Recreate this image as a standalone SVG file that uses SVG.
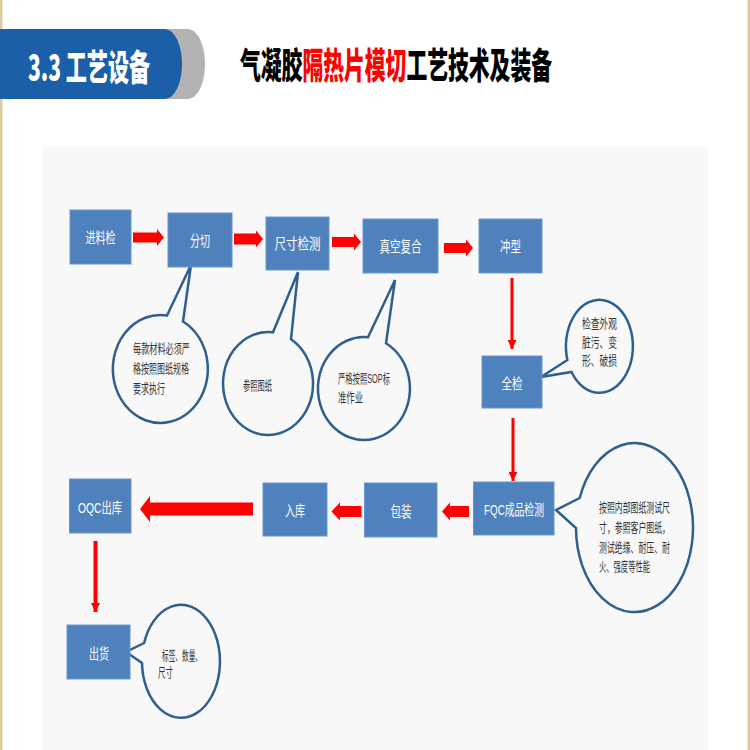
<svg xmlns="http://www.w3.org/2000/svg" width="750" height="750" viewBox="0 0 750 750">
<defs>
<style>
.box{fill:#4f81bd;stroke:#6a96cc;stroke-width:1}
.nt{font-family:"Liberation Sans","Noto Sans CJK SC",sans-serif;font-size:15px;fill:#ffffff;text-anchor:middle;dominant-baseline:central}
.ct{font-family:"Liberation Sans","Noto Sans CJK SC",sans-serif;font-size:13px;fill:#333333;dominant-baseline:central}
.call{fill:#f8f8f8;stroke:#2f5f8f;stroke-width:2.5;stroke-linejoin:miter}
.blk{fill:#ff0000}
.thin{stroke:#ff0000;stroke-width:3;fill:none}
.ttl{font-family:"Noto Sans CJK SC",sans-serif;font-size:36px;font-weight:900;dominant-baseline:central}
</style>
<marker id="ah" markerUnits="userSpaceOnUse" markerWidth="9" markerHeight="9" refX="9" refY="4.5" orient="auto">
<path d="M0,0 L9,4.5 L0,9 Z" fill="#ff0000"/>
</marker>
</defs>
<rect x="0" y="0" width="750" height="750" fill="#ffffff"/>
<rect x="0" y="0" width="2.5" height="750" fill="#dcc9a0"/>
<rect x="747.5" y="0" width="2.5" height="750" fill="#dcc9a0"/>
<rect x="42" y="147" width="666" height="603" fill="#f8f8f8"/>

<g id="header">
<path d="M150,29 H188 A17,35 0 0 1 188,99 H150 Z" fill="#b3b3b3"/>
<path d="M0,29 H165 A17,35 0 0 1 165,99 H0 Z" fill="#1a5fa8"/>
<text class="ttl" x="28" y="65" fill="#ffffff" textLength="122" lengthAdjust="spacingAndGlyphs">3.3 工艺设备</text>
</g>
<g id="title">
<text class="ttl" x="240" y="63" fill="#000000" textLength="312" lengthAdjust="spacingAndGlyphs">气凝胶<tspan fill="#ff0000">隔热片模切</tspan>工艺技术及装备</text>
</g>

<g id="callouts">
<g id="callout1">
<path class="call" d="M167,315.5 L191,265 L183,321.5 A47.5,54 0 1 1 167,315.5 Z"/>
<text class="ct" x="133" y="348" textLength="57" lengthAdjust="spacingAndGlyphs">每款材料必须严</text>
<text class="ct" x="133" y="368" textLength="56" lengthAdjust="spacingAndGlyphs">格按照图纸规格</text>
<text class="ct" x="133" y="388" textLength="32" lengthAdjust="spacingAndGlyphs">要求执行</text>
</g>
<g id="callout2">
<path class="call" d="M273,332.3 L298,272 L291,339.2 A45,51.5 0 1 1 273,332.3 Z"/>
<text class="ct" x="243" y="385" textLength="29" lengthAdjust="spacingAndGlyphs">参照图纸</text>
</g>
<g id="callout3">
<path class="call" d="M368,337.2 L395,280 L386,343.3 A46,51.5 0 1 1 368,337.2 Z"/>
<text class="ct" x="338" y="378" textLength="52" lengthAdjust="spacingAndGlyphs">严格按照SOP标</text>
<text class="ct" x="338" y="397" textLength="25" lengthAdjust="spacingAndGlyphs">准作业</text>
</g>
<g id="callout4">
<path class="call" d="M567.4,360 L541,377 L571.5,372 A33.5,46.5 0 1 0 567.4,360 Z"/>
<text class="ct" x="582" y="323" textLength="35" lengthAdjust="spacingAndGlyphs">检查外观</text>
<text class="ct" x="582" y="342" textLength="35" lengthAdjust="spacingAndGlyphs">脏污、变</text>
<text class="ct" x="582" y="360" textLength="35" lengthAdjust="spacingAndGlyphs">形、破损</text>
</g>
<g id="callout5">
<path class="call" d="M579.7,498 L556,510 L576,528 A58.5,84.5 0 1 0 579.7,498 Z"/>
<text class="ct" x="599" y="507" textLength="71" lengthAdjust="spacingAndGlyphs">按照内部图纸测试尺</text>
<text class="ct" x="599" y="527" textLength="71" lengthAdjust="spacingAndGlyphs">寸，参照客户图纸，</text>
<text class="ct" x="599" y="547" textLength="71" lengthAdjust="spacingAndGlyphs">测试绝缘、耐压、耐</text>
<text class="ct" x="599" y="566" textLength="51" lengthAdjust="spacingAndGlyphs">火、强度等性能</text>
</g>
<g id="callout6">
<path class="call" d="M144.1,643 L126,652 L142,663 A39,56.5 0 1 0 144.1,643 Z"/>
<text class="ct" x="162" y="655" textLength="40" lengthAdjust="spacingAndGlyphs">标签、数量、</text>
<text class="ct" x="158" y="672" textLength="15" lengthAdjust="spacingAndGlyphs">尺寸</text>
</g>
</g>

<g id="connectors">
<path class="blk" d="M133,232.5 L157,232.5 L157,229 L164,237.5 L157,246 L157,242.5 L133,242.5 Z"/>
<path class="blk" d="M234,233.5 L256,233.5 L256,230.5 L263,239 L256,247.5 L256,244.5 L234,244.5 Z"/>
<path class="blk" d="M332,237 L354,237 L354,233.5 L361,242 L354,250.5 L354,247 L332,247 Z"/>
<path class="blk" d="M444,243 L466,243 L466,239.5 L473,248 L466,256.5 L466,253 L444,253 Z"/>
<line class="thin" x1="512" y1="278" x2="512" y2="349" marker-end="url(#ah)"/>
<line class="thin" x1="513" y1="418" x2="513" y2="481" marker-end="url(#ah)"/>
<path class="blk" d="M469,506 L450,506 L450,502.5 L442,511.5 L450,520.5 L450,517 L469,517 Z"/>
<path class="blk" d="M361.5,506 L340,506 L340,502.5 L331.5,511.5 L340,520.5 L340,517 L361.5,517 Z"/>
<path class="blk" d="M253,502.5 L150,502.5 L150,496 L140,509 L150,522 L150,515.5 L253,515.5 Z"/>
<line class="thin" x1="95.5" y1="541" x2="95.5" y2="612" style="stroke-width:4" marker-end="url(#ah)"/>
</g>

<g id="n1"><rect class="box" x="70" y="210" width="61" height="54"/><text class="nt" x="100.5" y="237" textLength="30" lengthAdjust="spacingAndGlyphs">进料检</text></g>
<g id="n2"><rect class="box" x="168" y="213" width="64" height="54"/><text class="nt" x="200" y="240" textLength="20" lengthAdjust="spacingAndGlyphs">分切</text></g>
<g id="n3"><rect class="box" x="266" y="217" width="63" height="53"/><text class="nt" x="297.5" y="243" textLength="46" lengthAdjust="spacingAndGlyphs">尺寸检测</text></g>
<g id="n4"><rect class="box" x="363" y="219" width="75" height="54"/><text class="nt" x="400.5" y="246" textLength="42" lengthAdjust="spacingAndGlyphs">真空复合</text></g>
<g id="n5"><rect class="box" x="479" y="219" width="63" height="54"/><text class="nt" x="510.5" y="246" textLength="21" lengthAdjust="spacingAndGlyphs">冲型</text></g>
<g id="n6"><rect class="box" x="482" y="356" width="60" height="52"/><text class="nt" x="512" y="383" textLength="21" lengthAdjust="spacingAndGlyphs">全检</text></g>
<g id="n7"><rect class="box" x="473.5" y="482" width="80.5" height="53"/><text class="nt" x="514" y="509" textLength="60" lengthAdjust="spacingAndGlyphs">FQC成品检测</text></g>
<g id="n8"><rect class="box" x="364.5" y="483" width="72.5" height="54"/><text class="nt" x="401" y="511" textLength="21" lengthAdjust="spacingAndGlyphs">包装</text></g>
<g id="n9"><rect class="box" x="263" y="483" width="64" height="53"/><text class="nt" x="295" y="510" textLength="20" lengthAdjust="spacingAndGlyphs">入库</text></g>
<g id="n10"><rect class="box" x="69.5" y="479" width="61.5" height="54"/><text class="nt" x="100" y="507" textLength="44" lengthAdjust="spacingAndGlyphs">OQC出库</text></g>
<g id="n11"><rect class="box" x="67" y="625" width="63" height="54"/><text class="nt" x="99" y="653" textLength="20" lengthAdjust="spacingAndGlyphs">出货</text></g>
</svg>
